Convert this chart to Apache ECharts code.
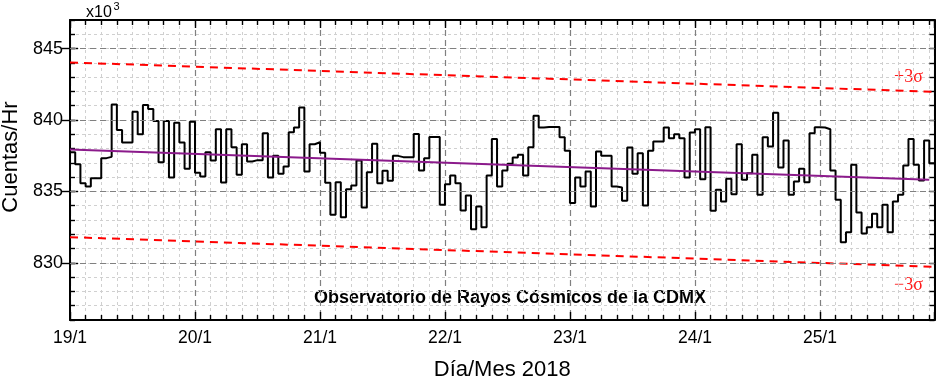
<!DOCTYPE html>
<html><head><meta charset="utf-8">
<script src="https://cdn.jsdelivr.net/npm/echarts@6/dist/echarts.min.js"></script>
<style>html,body{margin:0;padding:0;background:#fff}#c{width:944px;height:387px}</style>
</head><body><div id="c"></div>
<script>
// ---- data ----
const dayLabels = ['19/1','20/1','21/1','22/1','23/1','24/1','25/1'];
const hoursPerDay = 24;
const xMax = 166;            // hours shown
const yMin = 826, yMax = 847; // x10^3 counts/hr
const yMajorTicks = [830, 835, 840, 845];
// hourly counts (x10^3), starting 19/1 00h
const counts = [
837.74, 836.91, 835.58, 835.35, 835.93, 835.93, 837.33, 837.42, 841.09, 839.30,
838.42, 838.42, 840.58, 839.00, 841.05, 840.77, 839.93, 837.05, 839.93, 835.98,
839.81, 838.42, 836.58, 839.88, 836.30, 836.05, 837.74, 837.16, 839.35, 835.63,
839.35, 838.10, 836.16, 838.30, 837.10, 837.19, 837.19, 839.07, 835.98, 837.49,
836.23, 836.74, 839.14, 839.47, 840.88, 836.40, 838.30, 838.44, 837.70, 835.60,
833.37, 835.65, 833.19, 835.16, 835.42, 837.16, 833.88, 836.35, 838.33, 835.58,
836.44, 835.74, 837.49, 837.40, 837.40, 837.40, 839.02, 836.47, 837.33, 838.81,
838.81, 834.07, 835.51, 836.12, 835.58, 833.67, 834.72, 832.35, 833.95, 832.49,
836.12, 838.67, 835.35, 836.47, 836.93, 837.37, 837.56, 836.12, 838.09, 840.30,
839.47, 839.51, 839.51, 839.51, 838.79, 837.84, 834.19, 835.98, 835.35, 836.40,
833.95, 837.79, 837.49, 837.49, 835.35, 835.28, 834.35, 838.07, 836.23, 837.67,
834.02, 837.84, 838.49, 838.49, 839.47, 838.72, 839.00, 838.72, 835.98, 839.12,
839.35, 835.86, 839.49, 833.65, 835.12, 834.30, 835.88, 834.81, 838.30, 835.81,
836.28, 837.56, 834.77, 838.79, 838.14, 840.51, 836.67, 838.56, 834.77, 835.70,
836.58, 835.65, 839.07, 839.49, 839.47, 839.35, 836.47, 834.42, 831.44, 832.14,
836.86, 833.53, 832.05, 832.49, 833.44, 832.49, 834.07, 832.14, 834.30, 834.77,
836.81, 838.67, 836.86, 835.77, 838.56, 836.98
];
const trendEnds = [837.93, 835.82];
const upperEnds = [844.03, 841.97];
const lowerEnds = [831.80, 829.72];

// ---- chart ----
const FONT = '"Liberation Sans", Arial, sans-serif';
const SERIF = '"Liberation Serif", "Times New Roman", serif';
const chart = echarts.init(document.getElementById('c'));

const stepData = counts.map((v, i) => [i, v]);
stepData.push([counts.length, counts[counts.length - 1]]);

const axisLineStyle = {show: true, onZero: false, lineStyle: {color: '#000', width: 2}};
const tickStyle = {color: '#000', width: 1.4};
const xCommon = {type: 'value', min: 0, max: xMax, interval: hoursPerDay, gridIndex: 0};
const yCommon = {type: 'value', min: yMin, max: yMax, gridIndex: 0};

const option = {
  animation: false,
  backgroundColor: '#fff',
  grid: {left: 70, right: 9.5, top: 20, bottom: 67, containLabel: false},
  xAxis: [
    Object.assign({}, xCommon, {
      position: 'bottom',
      axisLine: axisLineStyle,
      axisTick: {show: true, inside: true, length: 8, lineStyle: tickStyle},
      minorTick: {show: true, splitNumber: 8, length: 5, lineStyle: tickStyle},
      axisLabel: {formatter: v => dayLabels[Math.round(v / hoursPerDay)] || '', fontSize: 17.5, color: '#000', fontFamily: FONT, margin: 9},
      splitLine: {show: true, lineStyle: {color: '#808080', type: [6, 4], width: 1.2}},
      minorSplitLine: {show: true, lineStyle: {color: '#d0d0d0', type: [3, 3], width: 1}},
      name: 'Día/Mes 2018', nameLocation: 'middle', nameGap: 39,
      nameTextStyle: {fontSize: 22, fontFamily: FONT, color: '#000'}
    }),
    Object.assign({}, xCommon, {
      position: 'top',
      axisLine: axisLineStyle,
      axisTick: {show: true, inside: true, length: 8, lineStyle: tickStyle},
      minorTick: {show: true, splitNumber: 8, length: 5, lineStyle: tickStyle},
      axisLabel: {show: false},
      splitLine: {show: false}
    })
  ],
  yAxis: [
    Object.assign({}, yCommon, {
      position: 'left', interval: 1,
      axisLine: axisLineStyle,
      axisTick: {show: true, inside: true, length: 5, lineStyle: tickStyle},
      axisLabel: {show: false},
      splitLine: {show: true, lineStyle: {color: '#d0d0d0', type: [3, 3], width: 1}}
    }),
    Object.assign({}, yCommon, {
      position: 'left',
      axisLine: {show: false},
      axisTick: {show: true, inside: true, length: 8, lineStyle: tickStyle, customValues: yMajorTicks},
      axisLabel: {customValues: yMajorTicks, fontSize: 18, color: '#000', fontFamily: FONT, margin: 7},
      splitLine: {show: false}
    }),
    Object.assign({}, yCommon, {
      position: 'right', interval: 1,
      axisLine: axisLineStyle,
      axisTick: {show: true, inside: true, length: 5, lineStyle: tickStyle},
      axisLabel: {show: false},
      splitLine: {show: false}
    }),
    Object.assign({}, yCommon, {
      position: 'right',
      axisLine: {show: false},
      axisTick: {show: true, inside: true, length: 8, lineStyle: tickStyle, customValues: yMajorTicks},
      axisLabel: {show: false},
      splitLine: {show: false}
    })
  ],
  series: [
    {
      type: 'line', data: [], z: 1, silent: true,
      markLine: {
        silent: true, symbol: ['none', 'none'], label: {show: false},
        lineStyle: {color: '#808080', type: [6, 4], width: 1.2},
        data: yMajorTicks.map(v => ({yAxis: v}))
      }
    },
    {
      type: 'line', name: '+3σ', z: 3, symbol: 'none', silent: true,
      data: [[0, upperEnds[0]], [xMax, upperEnds[1]]],
      lineStyle: {color: '#ff0000', width: 2, type: [8, 6]}
    },
    {
      type: 'line', name: '-3σ', z: 3, symbol: 'none', silent: true,
      data: [[0, lowerEnds[0]], [xMax, lowerEnds[1]]],
      lineStyle: {color: '#ff0000', width: 2, type: [8, 6]}
    },
    {
      type: 'line', name: 'Cuentas', z: 4, symbol: 'none', step: 'end', silent: true,
      data: stepData,
      lineStyle: {color: '#000', width: 2}
    },
    {
      type: 'line', name: 'Tendencia', z: 5, symbol: 'none', silent: true,
      data: [[0, trendEnds[0]], [counts.length - 1, trendEnds[1]]],
      lineStyle: {color: '#8b1a8b', width: 2}
    }
  ],
  graphic: [
    {type: 'text', x: 86, y: 13, style: {text: 'x10', fontSize: 16, fontFamily: FONT, fill: '#000', align: 'left', verticalAlign: 'middle'}},
    {type: 'text', x: 113.5, y: 7, style: {text: '3', fontSize: 11, fontFamily: FONT, fill: '#000', align: 'left', verticalAlign: 'middle'}},
    {type: 'text', x: 11, y: 157, rotation: Math.PI / 2, style: {text: 'Cuentas/Hr', fontSize: 22, fontFamily: FONT, fill: '#000', align: 'center', verticalAlign: 'middle'}},
    {type: 'text', x: 510, y: 298.5, style: {text: 'Observatorio de Rayos Cósmicos de la CDMX', fontSize: 18, fontWeight: 'bold', fontFamily: FONT, fill: '#000', align: 'center', verticalAlign: 'middle'}},
    {type: 'text', x: 908.5, y: 77.5, style: {text: '+3σ', fontSize: 18, fontFamily: SERIF, fill: '#ff1a1a', align: 'center', verticalAlign: 'middle'}},
    {type: 'text', x: 908.5, y: 285, style: {text: '\u22123σ', fontSize: 18, fontFamily: SERIF, fill: '#ff1a1a', align: 'center', verticalAlign: 'middle'}}
  ]
};
chart.setOption(option);
</script>
</body></html>
